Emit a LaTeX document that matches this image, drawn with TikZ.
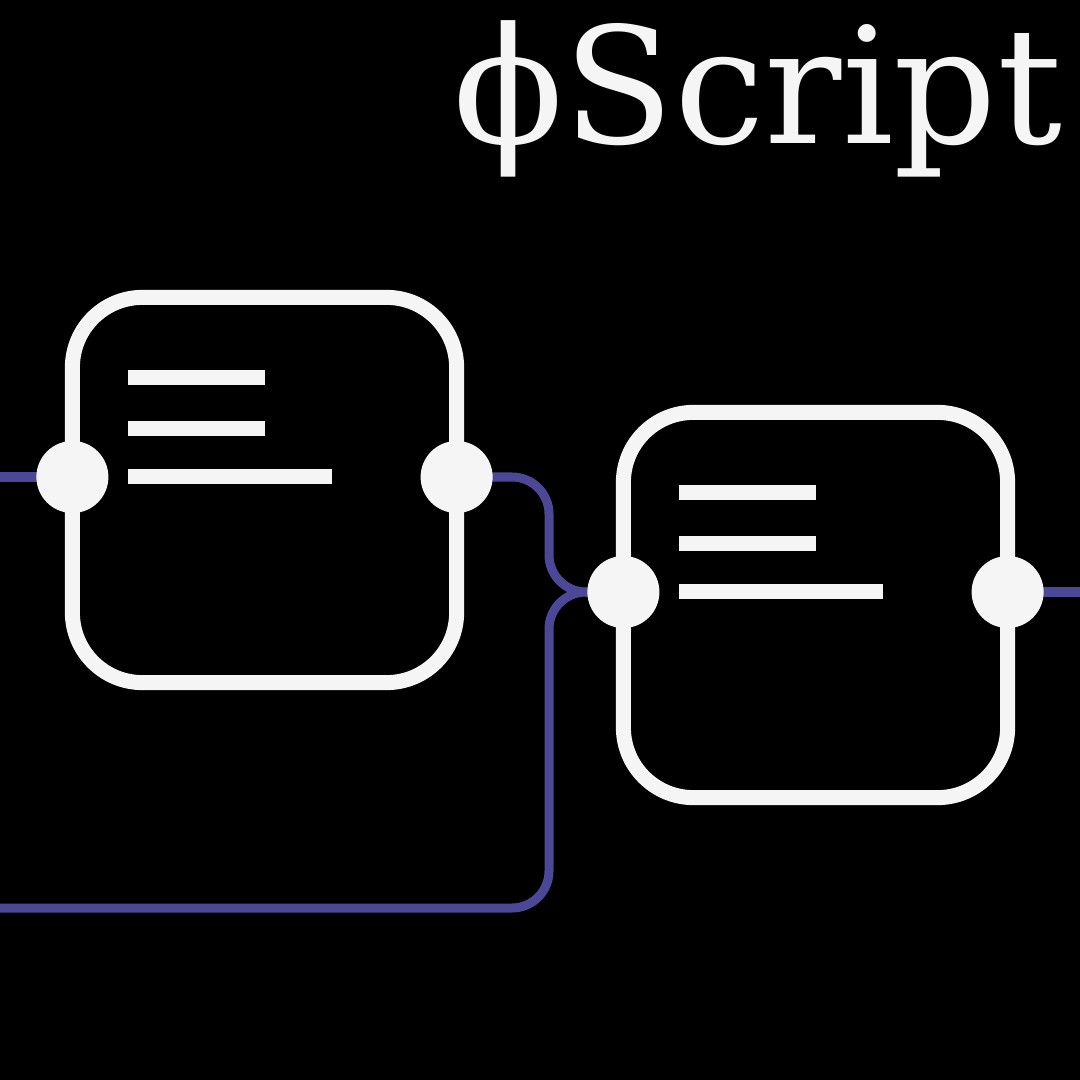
\documentclass[tikz,border=0pt]{standalone}
\usepackage{fontspec}
\setmainfont{DejaVu Serif}
\usepackage{xcolor}
\usetikzlibrary{positioning, calc, backgrounds}
\definecolor{offwhite}{HTML}{F5F5F5}
\definecolor{wirepurple}{HTML}{4D4797}
\tikzstyle{block} = [rectangle, minimum width=3.84cm, minimum height=3.85cm, draw=offwhite, line width=0.15cm, outer sep=0pt, rounded corners=0.7cm]
\tikzstyle{port} = [circle, minimum size=0.72cm, inner sep=0pt, outer sep=0pt, fill=offwhite]
\tikzstyle{textline} = [draw=offwhite, line width=0.15cm]
\tikzstyle{wire} = [draw=wirepurple, line width=0.09cm, rounded corners=0.37cm]

\begin{document}
\begin{tikzpicture}[x=0.01cm, y=-0.01cm]
    \useasboundingbox (0,0) rectangle (1080,1080);
    % Background
    \begin{scope}[on background layer]
        \fill[black] (0,0) rectangle (1080,1080);
    \end{scope}

    % Title
    \node (title) [anchor=base east, inner sep=0pt, text=offwhite, font=\fontsize{46}{46}\selectfont] at (1063,144) {ϕScript};

    % Blocks
    \node (blockA) [block] at (264.5,490) {};
    \node (blockB) [block] at ($(blockA)+(551,115)$) {};

    % Text lines
    \foreach \b in {blockA, blockB} {
        \draw [textline] ($(\b.west)+(55.5,-112.5)$) -- ++(137,0);
        \draw [textline] ($(\b.west)+(55.5,-61.5)$) -- ++(137,0);
        \draw [textline] ($(\b.west)+(55.5,-13.5)$) -- ++(204,0);
    }

    % Ports
    \node (portAin) [port] at ($(blockA.west)+(0,-13)$) {};
    \node (portAout) [port] at ($(blockA.east)+(0,-13)$) {};
    \node (portBin) [port] at ($(blockB.west)+(0,-13)$) {};
    \node (portBout) [port] at ($(blockB.east)+(0,-13)$) {};

    % Wire ends
    \coordinate (leftin) at (0,477);
    \coordinate (rightout) at (1080,592);
    \coordinate (loopback) at (0,908);
    \coordinate (junction) at (549,592);

    % Wires
    \begin{scope}[on background layer]
        \draw [wire] (leftin) -- (portAin.center);
        \draw [wire] (portAout.center) -| (junction) -- (portBin.center);
        \draw [wire] (loopback) -| (junction) -- (portBin.center);
        \draw [wire] (portBout.center) -- (rightout);
    \end{scope}
\end{tikzpicture}
\end{document}
